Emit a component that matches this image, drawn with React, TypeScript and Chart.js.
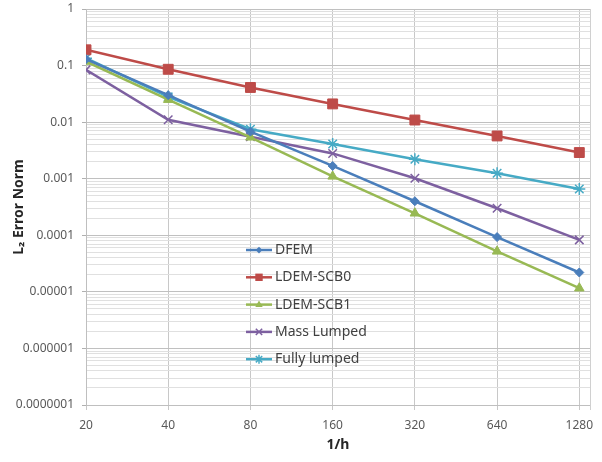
import React, { useEffect, useRef } from "react";
import { Chart, registerables } from "chart.js";

Chart.register(...registerables);

const categories = ["20", "40", "80", "160", "320", "640", "1280"];
const dfem = [0.13, 0.030, 0.0068, 0.00168, 0.0004, 0.000093, 0.000022];
const ldemScb0 = [0.19, 0.086, 0.041, 0.021, 0.0109, 0.0057, 0.0029];
const ldemScb1 = [0.118, 0.025, 0.0054, 0.0011, 0.000245, 0.000052, 0.0000116];
const massLumped = [0.084, 0.011, 0.0055, 0.0028, 0.00102, 0.0003, 0.000083];
const fullyLumped = [0.135, 0.028, 0.0075, 0.0041, 0.0022, 0.00125, 0.00066];
const yDecades = [-7, -6, -5, -4, -3, -2, -1, 0];

const FONT = "'Noto Sans', 'Noto Sans CJK KR', sans-serif";

const toPts = (arr: number[]) => arr.map((v, i) => ({ x: i, y: v }));

const isMajor = (v: number) => {
  const l = Math.log10(v);
  return Math.abs(l - Math.round(l)) < 1e-9;
};

const fmt = (v: number) => {
  const e = Math.round(Math.log10(v));
  return e >= 0 ? String(Math.pow(10, e)) : Math.pow(10, e).toFixed(-e);
};

function drawMarker(ctx: CanvasRenderingContext2D, style: string, r: number, x: number, y: number) {
  ctx.beginPath();
  if (style === "rect") {
    const s = Math.SQRT1_2 * r;
    ctx.rect(x - s, y - s, 2 * s, 2 * s);
    ctx.fill();
  } else if (style === "rectRot") {
    ctx.moveTo(x - r, y);
    ctx.lineTo(x, y - r);
    ctx.lineTo(x + r, y);
    ctx.lineTo(x, y + r);
    ctx.closePath();
    ctx.fill();
  } else if (style === "triangle") {
    ctx.moveTo(x, y - r);
    ctx.lineTo(x + r * 0.9, y + r * 0.6);
    ctx.lineTo(x - r * 0.9, y + r * 0.6);
    ctx.closePath();
    ctx.fill();
  } else if (style === "crossRot") {
    const s = r * Math.SQRT1_2;
    ctx.moveTo(x - s, y - s);
    ctx.lineTo(x + s, y + s);
    ctx.moveTo(x - s, y + s);
    ctx.lineTo(x + s, y - s);
    ctx.stroke();
  } else if (style === "star") {
    const s = r * Math.SQRT1_2;
    ctx.moveTo(x - s, y - s);
    ctx.lineTo(x + s, y + s);
    ctx.moveTo(x - s, y + s);
    ctx.lineTo(x + s, y - s);
    ctx.moveTo(x, y - r);
    ctx.lineTo(x, y + r);
    ctx.moveTo(x - r, y);
    ctx.lineTo(x + r, y);
    ctx.stroke();
  }
}

const legendPlugin = {
  id: "insideLegend",
  beforeDatasetsDraw(chart: any) {
    const { ctx, chartArea } = chart;
    ctx.save();
    ctx.strokeStyle = "#D0D0D0";
    ctx.lineWidth = 1;
    ctx.beginPath();
    ctx.moveTo(Math.round(chartArea.right) + 0.5, chartArea.top);
    ctx.lineTo(Math.round(chartArea.right) + 0.5, chartArea.bottom + 5);
    ctx.stroke();
    ctx.restore();
  },
  afterDraw(chart: any) {
    const { ctx } = chart;
    const x0 = 246;
    const y0 = 250;
    const rowH = 27.3;
    ctx.save();
    chart.data.datasets.forEach((ds: any, i: number) => {
      const y = y0 + i * rowH;
      ctx.strokeStyle = ds.borderColor;
      ctx.lineWidth = 2.5;
      ctx.beginPath();
      ctx.moveTo(x0, y);
      ctx.lineTo(x0 + 26, y);
      ctx.stroke();
      ctx.fillStyle = ds.pointBackgroundColor;
      ctx.strokeStyle = ds.pointBorderColor;
      ctx.lineWidth = ds.pointBorderWidth;
      drawMarker(ctx, ds.pointStyle, ds.pointRadius * 0.75, x0 + 13, y);
      ctx.fillStyle = "#404040";
      ctx.font = `14px ${FONT}`;
      ctx.textBaseline = "middle";
      ctx.textAlign = "left";
      ctx.fillText(ds.label, x0 + 29, y);
    });
    ctx.restore();
  },
};

const mk = (label: string, data: number[], color: string, style: string, radius: number, bw: number) => ({
  label,
  data: toPts(data),
  borderColor: color,
  backgroundColor: color,
  pointBackgroundColor: color,
  pointBorderColor: color,
  pointBorderWidth: bw,
  pointStyle: style,
  pointRadius: radius,
  borderWidth: 2.5,
  tension: 0,
});

export default function App() {
  const ref = useRef<HTMLCanvasElement | null>(null);
  useEffect(() => {
    if (!ref.current) return;
    const chart = new Chart(ref.current, {
      type: "line",
      data: {
        datasets: [
          mk("DFEM", dfem, "#4A7EBB", "rectRot", 4.5, 1),
          mk("LDEM-SCB0", ldemScb0, "#BE4B48", "rect", 7, 1),
          mk("LDEM-SCB1", ldemScb1, "#98B954", "triangle", 5.5, 1),
          mk("Mass Lumped", massLumped, "#7D60A0", "crossRot", 6, 1.5),
          mk("Fully lumped", fullyLumped, "#46AAC5", "star", 6, 1.5),
        ] as any,
      },
      options: {
        animation: false,
        responsive: true,
        maintainAspectRatio: false,
        layout: { padding: { top: 9, right: 12, left: 0, bottom: 0 } },
        plugins: { legend: { display: false }, tooltip: { enabled: false } },
        scales: {
          x: {
            type: "linear",
            min: 0,
            max: 6.13,
            afterBuildTicks: (s: any) => {
              s.ticks = categories.map((_, i) => ({ value: i }));
            },
            afterFit: (s: any) => {
              s.height = 57;
              s.paddingLeft = 0;
              s.paddingRight = 0;
            },
            ticks: {
              autoSkip: false,
              maxRotation: 0,
              padding: 8,
              color: "#595959",
              font: { family: FONT, size: 12 },
              callback: (v: any) => categories[v as number] ?? "",
            },
            grid: { color: "#C8C8C8", lineWidth: 1, tickLength: 5, tickColor: "#C8C8C8" },
            border: { color: "#BFBFBF" },
            title: {
              display: true,
              text: "1/h",
              color: "#262626",
              font: { family: FONT, size: 14, weight: "bold" },
              padding: { top: 2, bottom: 9 },
            },
          },
          y: {
            type: "logarithmic",
            min: 1e-7,
            max: 1,
            afterBuildTicks: (s: any) => {
              const t: any[] = [];
              yDecades.forEach((e) => {
                const ks = e === 0 ? [1] : [1, 2, 3, 4, 5, 6, 7, 8, 9];
                ks.forEach((k) => t.push({ value: k * Math.pow(10, e) }));
              });
              s.ticks = t;
            },
            afterFit: (s: any) => {
              s.width = 86;
              s.paddingTop = 0;
              s.paddingBottom = 0;
            },
            ticks: {
              autoSkip: false,
              padding: 8,
              color: "#595959",
              font: { family: FONT, size: 12 },
              callback: (v: any) => (isMajor(v as number) ? fmt(v as number) : ""),
            },
            grid: {
              color: (c: any) => (c.tick && isMajor(c.tick.value) ? "#C0C0C0" : "#E0E0E0"),
              tickColor: (c: any) => (c.tick && isMajor(c.tick.value) ? "#B0B0B0" : "rgba(0,0,0,0)"),
              tickLength: 4,
              lineWidth: 1,
            },
            border: { color: "#BFBFBF" },
            title: {
              display: true,
              text: "L\u2082 Error Norm",
              color: "#262626",
              font: { family: FONT, size: 14, weight: "bold" },
              padding: { top: 11, bottom: 0 },
            },
          },
        },
      } as any,
      plugins: [legendPlugin],
    });
    return () => chart.destroy();
  }, []);
  return (
    <div style={{ position: "fixed", left: 0, top: 0, width: 602, height: 462, background: "#fff" }}>
      <canvas ref={ref} />
    </div>
  );
}
